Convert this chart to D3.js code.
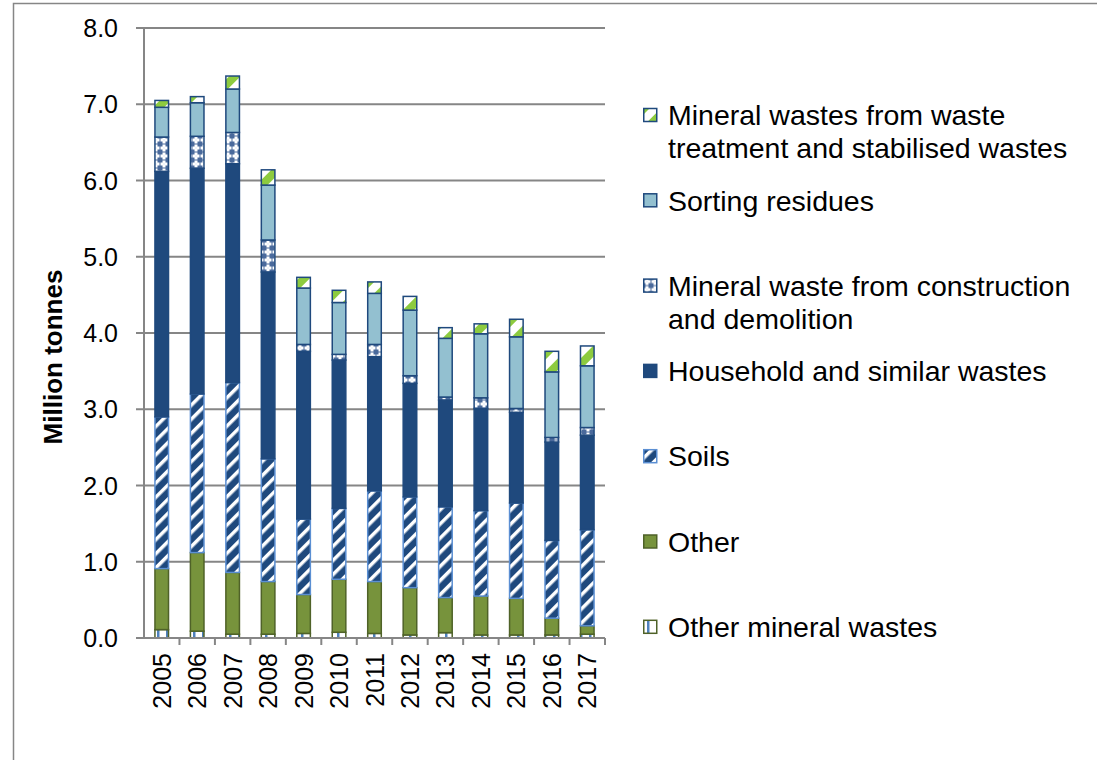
<!DOCTYPE html>
<html>
<head>
<meta charset="utf-8">
<script src="https://cdn.jsdelivr.net/npm/d3@7"></script>
<style>
    body { margin: 0; background: #fff; }
    svg { display: block; font-family: "Liberation Sans", Arial, sans-serif; }
</style>
</head>
<body>
<div id="chart"></div>
<script>
/** * Data * * **/
const years = ["2005", "2006", "2007", "2008", "2009", "2010", "2011", "2012", "2013", "2014", "2015", "2016", "2017"];
const yTicks = [0, 1, 2, 3, 4, 5, 6, 7, 8];

// stacked from bottom to top
const otherMineral = [0.11, 0.09, 0.05, 0.05, 0.06, 0.075, 0.06, 0.04, 0.07, 0.04, 0.04, 0.04, 0.05];
const other = [0.80, 1.03, 0.81, 0.69, 0.51, 0.695, 0.68, 0.62, 0.46, 0.51, 0.48, 0.22, 0.11];
const soils = [1.99, 2.08, 2.49, 1.61, 0.99, 0.93, 1.19, 1.19, 1.19, 1.12, 1.25, 1.02, 1.26];
const household = [3.22, 2.96, 2.87, 2.45, 2.20, 1.945, 1.76, 1.49, 1.40, 1.34, 1.19, 1.29, 1.24];
const constructionDemolition = [0.45, 0.42, 0.41, 0.42, 0.09, 0.075, 0.16, 0.10, 0.04, 0.14, 0.05, 0.06, 0.10];
const sortingResidues = [0.39, 0.44, 0.57, 0.72, 0.74, 0.68, 0.67, 0.86, 0.77, 0.84, 0.94, 0.86, 0.81];
const treatmentWastes = [0.09, 0.08, 0.17, 0.20, 0.14, 0.16, 0.15, 0.18, 0.14, 0.13, 0.23, 0.27, 0.26];

const seriesNames = [
    "Other mineral wastes",
    "Other",
    "Soils",
    "Household and similar wastes",
    "Mineral waste from construction and demolition",
    "Sorting residues",
    "Mineral wastes from waste treatment and stabilised wastes"
];
const seriesValues = [otherMineral, other, soils, household, constructionDemolition, sortingResidues, treatmentWastes];

// legend labels, top to bottom, split in lines as in the original
const legendLines = [
    ["Mineral wastes from waste", "treatment and stabilised wastes"],
    ["Sorting residues"],
    ["Mineral waste from construction", "and demolition"],
    ["Household and similar wastes"],
    ["Soils"],
    ["Other"],
    ["Other mineral wastes"]
];

/** * Layout * * **/
const width = 1097;
const height = 760;
const plotLeft = 144;
const plotRight = 605;
const plotTop = 28;
const plotBottom = 638;
const gridColor = "#868686";
const navy = "#1F497D";

const svg = d3.select("#chart")
    .append("svg")
    .attr("width", width)
    .attr("height", height);

// outer chart frame
svg.append("rect")
    .attr("x", 13.5)
    .attr("y", 3.5)
    .attr("width", width + 20)
    .attr("height", height + 20)
    .attr("fill", "none")
    .attr("stroke", gridColor)
    .attr("stroke-width", 1.5);

/** * Patterns * * **/
const defs = svg.append("defs");

// soils: navy with white upward diagonal stripes
const soilsPat = defs.append("pattern")
    .attr("id", "pat-soils")
    .attr("patternUnits", "userSpaceOnUse")
    .attr("width", 10)
    .attr("height", 10)
    .attr("patternTransform", "rotate(-45)");
soilsPat.append("rect").attr("width", 10).attr("height", 10).attr("fill", navy);
soilsPat.append("rect").attr("y", 0).attr("width", 10).attr("height", 3.5).attr("fill", "#fff");

// construction & demolition: light crosses on blue
const cdPat = defs.append("pattern")
    .attr("id", "pat-cd")
    .attr("patternUnits", "userSpaceOnUse")
    .attr("width", 8)
    .attr("height", 8);
cdPat.append("rect").attr("width", 8).attr("height", 8).attr("fill", "#4a6a9c");
cdPat.append("rect").attr("x", 2.5).attr("y", 0.5).attr("width", 3).attr("height", 7).attr("fill", "#fff");
cdPat.append("rect").attr("x", 0.5).attr("y", 2.5).attr("width", 7).attr("height", 3).attr("fill", "#fff");
cdPat.append("rect").attr("x", 3.5).attr("y", 3.5).attr("width", 1).attr("height", 1).attr("fill", "#c9d6e8");

// treatment wastes: white with a wide green diagonal
const trPat = defs.append("pattern")
    .attr("id", "pat-treat")
    .attr("patternUnits", "userSpaceOnUse")
    .attr("width", 16)
    .attr("height", 16)
    .attr("patternTransform", "rotate(-45)");
trPat.append("rect").attr("width", 16).attr("height", 16).attr("fill", "#fff");
trPat.append("rect").attr("y", 8).attr("width", 16).attr("height", 8).attr("fill", "#8DCB3F");

// other mineral wastes: white with a blue vertical line
const omPat = defs.append("pattern")
    .attr("id", "pat-om")
    .attr("patternUnits", "userSpaceOnUse")
    .attr("width", 9)
    .attr("height", 9);
omPat.append("rect").attr("width", 9).attr("height", 9).attr("fill", "#fff");
omPat.append("rect").attr("x", 4).attr("width", 2.5).attr("height", 9).attr("fill", "#4F81BD");

const seriesFill = ["url(#pat-om)", "#77933C", "url(#pat-soils)", navy, "url(#pat-cd)", "#93C0D0", "url(#pat-treat)"];
const seriesStroke = ["#4F6228", "#4F6228", "#5B8FD3", navy, navy, navy, navy];

/** * Scales * * **/
const x = d3.scaleBand()
    .domain(years)
    .range([plotLeft, plotRight])
    .paddingInner(0.575)
    .paddingOuter(0.2875);

const y = d3.scaleLinear()
    .domain([0, 8])
    .range([plotBottom, plotTop]);

// gridlines
svg.append("g")
    .selectAll("line")
    .data(yTicks.slice(1))
    .join("line")
    .attr("x1", plotLeft)
    .attr("x2", plotRight)
    .attr("y1", d => y(d))
    .attr("y2", d => y(d))
    .attr("stroke", gridColor)
    .attr("stroke-width", 2);

/** * Bars * * **/
const table = years.map((yr, i) => {
    const row = { year: yr };
    seriesNames.forEach((s, k) => { row[s] = seriesValues[k][i]; });
    return row;
});
const stacked = d3.stack().keys(seriesNames)(table);

svg.append("g")
    .selectAll("g")
    .data(stacked)
    .join("g")
    .attr("fill", (d, k) => seriesFill[k])
    .attr("stroke", (d, k) => seriesStroke[k])
    .attr("stroke-width", 1.5)
    .selectAll("rect")
    .data(d => d)
    .join("rect")
    .attr("x", d => x(d.data.year) + 0.75)
    .attr("width", x.bandwidth() - 1.5)
    .attr("y", d => y(d[1]))
    .attr("height", d => Math.max(0, y(d[0]) - y(d[1])));

/** * Axes * * **/
const yAxis = svg.append("g");
yAxis.append("line")
    .attr("x1", plotLeft).attr("x2", plotLeft)
    .attr("y1", plotTop).attr("y2", plotBottom)
    .attr("stroke", gridColor).attr("stroke-width", 2);
yAxis.selectAll("line.tick")
    .data(yTicks)
    .join("line")
    .attr("class", "tick")
    .attr("x1", plotLeft - 8).attr("x2", plotLeft)
    .attr("y1", d => y(d)).attr("y2", d => y(d))
    .attr("stroke", gridColor).attr("stroke-width", 2);
yAxis.selectAll("text")
    .data(yTicks)
    .join("text")
    .attr("x", 118)
    .attr("y", d => y(d))
    .attr("dy", "0.36em")
    .attr("text-anchor", "end")
    .attr("font-size", 25)
    .text(d => d.toFixed(1));

svg.append("text")
    .attr("transform", `translate(62,357) rotate(-90)`)
    .attr("text-anchor", "middle")
    .attr("font-size", 26)
    .attr("font-weight", "bold")
    .text("Million tonnes");

const xAxis = svg.append("g");
xAxis.append("line")
    .attr("x1", plotLeft).attr("x2", plotRight)
    .attr("y1", plotBottom).attr("y2", plotBottom)
    .attr("stroke", gridColor).attr("stroke-width", 2);
xAxis.selectAll("line.tick")
    .data(years)
    .join("line")
    .attr("class", "tick")
    .attr("x1", d => x(d) + x.bandwidth() / 2 + x.step() / 2)
    .attr("x2", d => x(d) + x.bandwidth() / 2 + x.step() / 2)
    .attr("y1", plotBottom).attr("y2", plotBottom + 7)
    .attr("stroke", gridColor).attr("stroke-width", 2);
xAxis.selectAll("text")
    .data(years)
    .join("text")
    .attr("transform", d => `translate(${x(d) + x.bandwidth() / 2},${plotBottom + 15}) rotate(-90)`)
    .attr("text-anchor", "end")
    .attr("dy", "0.36em")
    .attr("font-size", 25)
    .text(d => d);

/** * Legend * * **/
const legendTop = 115;
const legendGap = 85.3;
const legend = svg.append("g")
    .selectAll("g")
    .data(legendLines)
    .join("g")
    .attr("transform", (d, i) => `translate(643,${legendTop + i * legendGap})`);

legend.append("rect")
    .attr("x", 0.75)
    .attr("y", -6.5)
    .attr("width", 13)
    .attr("height", 13)
    .attr("fill", (d, i) => seriesFill[6 - i])
    .attr("stroke", (d, i) => seriesStroke[6 - i])
    .attr("stroke-width", 1.5);

legend.selectAll("text")
    .data(d => d)
    .join("text")
    .attr("x", 25)
    .attr("y", (d, j) => j * 33)
    .attr("dy", "0.36em")
    .attr("font-size", 28.5)
    .text(d => d);
</script>
</body>
</html>
